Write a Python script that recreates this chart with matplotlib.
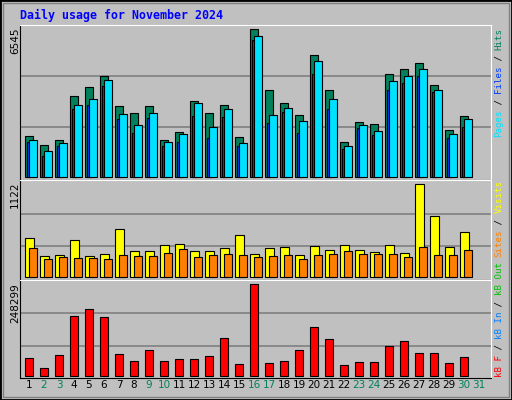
import matplotlib
matplotlib.use("Agg")
import matplotlib.pyplot as plt
from matplotlib.patches import Rectangle

days = list(range(1, 31))
hits_px = [409,436,421,289,262,229,319,340,319,421,397,304,340,316,412,88,271,310,346,166,271,427,367,373,223,208,190,256,391,349]
files_px = [421,454,430,316,298,241,343,376,340,427,403,310,382,328,430,109,346,325,364,184,298,439,376,394,244,229,208,271,403,358]
pages_px = [427,469,439,328,316,259,358,400,355,439,427,349,415,352,439,121,370,337,400,223,328,448,385,406,271,250,229,277,415,382]
visits_px = [190,244,241,196,244,238,163,229,229,211,208,229,229,220,181,238,220,217,241,214,226,211,226,232,211,235,28,124,217,172]
sites_px = [220,253,247,250,250,253,241,244,244,235,223,247,241,238,241,247,244,241,253,241,238,229,238,238,238,247,217,241,241,226]
kbf_px = [550,580,541,424,403,427,538,559,526,559,553,553,544,490,568,328,565,559,526,457,493,571,562,562,514,499,535,535,565,547]
hits = [6545*(530-v)/442 for v in hits_px]
files = [6545*(530-v)/442 for v in files_px]
pages = [6545*(530-v)/442 for v in pages_px]
visits = [1122*(305-v)/277 for v in visits_px]
sites = [1122*(305-v)/277 for v in sites_px]
kbf = [248299*(602-v)/274 for v in kbf_px]
weekend = [2,3,9,10,16,17,23,24,30,31]

W, H = 512, 400
fig = plt.figure(figsize=(5.12, 4.0), dpi=100, facecolor="#c0c0c0")
fig.patches.append(Rectangle((0, 0), 1, 1, transform=fig.transFigure, fill=False, ec="black", lw=2))
fig.patches.append(Rectangle((3/W, 3/H), 1-6/W, 1-6/H, transform=fig.transFigure, fill=False, ec="#808080", lw=1))

def mkax(top, bot):
    ax = fig.add_axes([20/W, 1-bot/H, 471/W, (bot-top)/H])
    ax.set_facecolor("#c0c0c0")
    ax.set_xlim(0.5, 0.5+471/15)
    ax.set_xticks([]); ax.set_yticks([])
    for s in ["left", "bottom"]:
        ax.spines[s].set_color("black")
    for s in ["top", "right"]:
        ax.spines[s].set_color("white")
    return ax

def setup_y(ax, top, bot, base, maxtop, vmax, grids):
    h = base - maxtop
    ax.set_ylim(-vmax*(bot-base)/h, vmax*(base-top)/h)
    for g in grids:
        ax.axhline(vmax*g/h, color="#808080", lw=1.2, zorder=0)

kw = dict(align="edge", edgecolor="black", linewidth=0.8)
ax1 = mkax(25, 180)
setup_y(ax1, 25, 180, 176.7, 29.3, 6545, [49.4, 100.4])
ax1.bar([d-0.147 for d in days], hits, width=0.49, color="#00805c", **kw)
ax1.bar([d-0.013 for d in days], pages, width=0.27, color="#0040ff", **kw)
ax1.bar([d+0.12 for d in days], files, width=0.49, color="#00e0ff", **kw)

ax2 = mkax(180, 280)
setup_y(ax2, 180, 280, 276.7, 184.3, 1122, [30.3, 63])
ax2.bar([d-0.147 for d in days], visits, width=0.56, color="#ffff00", **kw)
ax2.bar([d+0.12 for d in days], sites, width=0.49, color="#ff8000", **kw)

ax3 = mkax(280, 378)
setup_y(ax3, 280, 378, 375.7, 284.3, 248299, [29.3, 62.3])
ax3.bar([d-0.147 for d in days], kbf, width=0.49, color="#ff0000", **kw)

for d in range(1, 32):
    ax3.text(d+0.1, -0.02, str(d), transform=ax3.get_xaxis_transform(), ha="center", va="top",
             fontsize=7.5, family="DejaVu Sans", color="#00805c" if d in weekend else "black")

mono = dict(family="DejaVu Sans Mono", fontsize=6.6)
fig.text(20/W, 1-15/H, "Daily usage for November 2024", color="#0000ff", fontweight="bold",
         va="center", family="DejaVu Sans Mono", fontsize=8.4)
for txt, ytop in [("6545", 28), ("1122", 181), ("248299", 283)]:
    fig.text(15/W, 1-ytop/H, txt, rotation=90, ha="center", va="top", family="DejaVu Sans", fontsize=7.5)

cw = 5.45
def rlabel(parts, ybot):
    y = ybot
    for t, c in parts:
        fig.text(499/W, 1-y/H, t, rotation=90, ha="center", va="bottom", color=c, **mono)
        y -= cw*len(t)
rlabel([("Pages", "#00e0ff"), (" / ", "black"), ("Files", "#0040ff"), (" / ", "black"), ("Hits", "#00805c")], 137)
rlabel([("Sites", "#ff8000"), (" / ", "black"), ("Visits", "#ffff00")], 257)
rlabel([("kB F", "#ff0000"), (" / ", "black"), ("kB In", "#0080ff"), (" / ", "black"), ("kB Out", "#00c000")], 377)

fig.savefig("out.png", dpi=100, facecolor="#c0c0c0")
